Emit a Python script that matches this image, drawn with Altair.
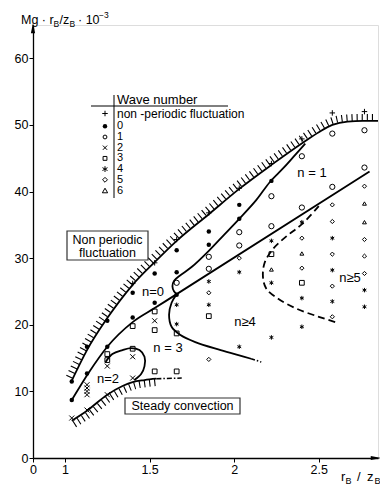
import altair as alt
import pandas as pd

FONT = "Liberation Sans"
OX, OY = 33, 25          # plot origin inside the 380x485 page
W, H = 345, 433

# ---------------- measured points (x = r_B/z_B, y = Mg*r_B/z_B*1e-3) ----------------
plus_x = [1.40, 1.53, 1.66, 1.85, 2.03, 2.22, 2.40, 2.58, 2.77]
plus_y = [26.2, 29.3, 32.8, 36.8, 40.5, 44.2, 47.9, 51.8, 52.0]

n0_x = [1.04, 1.04, 1.13, 1.13, 1.25, 1.25, 1.40, 1.40, 1.53, 1.53, 1.66, 1.66, 1.66, 1.85, 1.85, 2.03, 2.03, 2.22]
n0_y = [11.5, 8.7, 16.7, 12.7, 20.6, 16.7, 24.8, 21.1, 27.7, 23.3, 31.2, 27.9, 24.5, 34.0, 32.0, 38.0, 35.9, 41.6]

n1_x = [1.66, 1.85, 1.85, 2.03, 2.03, 2.22, 2.22, 2.40, 2.40, 2.58, 2.58, 2.77, 2.77]
n1_y = [26.3, 30.2, 28.4, 33.9, 31.9, 39.3, 34.8, 45.3, 37.6, 48.7, 40.7, 49.2, 43.6]

n2_x = [1.04, 1.13, 1.13, 1.13, 1.13, 1.13, 1.25, 1.25, 1.40, 1.40, 1.53]
n2_y = [6.0, 11.0, 10.5, 10.0, 9.5, 7.2, 13.8, 9.5, 15.2, 12.0, 20.6]

n3_x = [1.25, 1.25, 1.40, 1.40, 1.53, 1.53, 1.53, 1.66, 1.66, 1.85, 2.22, 2.40]
n3_y = [15.6, 14.7, 19.8, 16.4, 22.0, 19.2, 13.0, 18.7, 13.0, 21.3, 30.6, 26.3]

n4_x = [1.66, 1.66, 1.85, 1.85, 2.03, 2.03, 2.22, 2.22, 2.22, 2.40, 2.40, 2.40, 2.58, 2.58, 2.58, 2.77, 2.77]
n4_y = [23.0, 20.1, 26.5, 23.0, 27.9, 16.7, 32.6, 26.3, 18.1, 35.4, 24.0, 19.7, 33.0, 28.2, 23.5, 25.2, 22.7]

n5_x = [1.85, 1.85, 2.03, 2.40, 2.40, 2.58, 2.58, 2.58, 2.58, 2.58, 2.77, 2.77, 2.77, 2.77]
n5_y = [24.8, 14.8, 30.0, 33.0, 28.5, 38.0, 35.5, 30.6, 25.8, 21.2, 40.8, 32.8, 30.3, 27.7]

n6_x = [2.22, 2.40, 2.77, 2.77]
n6_y = [28.3, 30.7, 38.2, 35.4]

# ---------------- boundary curves ----------------
fl_x = [1.04, 1.13, 1.25, 1.40, 1.53, 1.66, 1.85, 2.03, 2.22, 2.41, 2.50, 2.58, 2.67, 2.76, 2.85]
fl_y = [11.6, 16.2, 21.0, 26.0, 29.4, 32.6, 36.6, 40.4, 44.0, 47.4, 48.9, 50.0, 50.5, 50.6, 50.6]

st_x = [1.04, 1.13, 1.25, 1.34, 1.40, 1.47, 1.54]
st_y = [5.6, 7.1, 9.5, 10.8, 11.4, 11.7, 11.9]
st2_x = [1.54, 1.69]
st2_y = [11.9, 12.0]

l1_x = [1.04, 1.14, 1.25, 1.40, 1.53, 1.66, 2.80]
l1_y = [8.7, 12.8, 16.7, 20.4, 22.5, 24.6, 43.0]

c0_x = [1.66, 1.645, 1.635, 1.645, 1.68, 1.75, 1.85, 1.94, 2.03, 2.13, 2.21, 2.29, 2.35, 2.42]
c0_y = [24.6, 25.0, 25.8, 26.6, 27.4, 28.7, 31.1, 33.5, 35.9, 38.7, 41.4, 43.5, 45.2, 47.2]

c3_x = [1.66, 1.63, 1.615, 1.63, 1.68, 1.77, 1.92, 2.03, 2.10]
c3_y = [24.6, 23.3, 21.5, 19.7, 18.5, 17.4, 16.2, 15.4, 14.9]
c3b_x = [2.10, 2.16]
c3b_y = [14.9, 14.4]

c2_x = [1.24, 1.28, 1.34, 1.39, 1.44, 1.47, 1.47, 1.45, 1.41]
c2_y = [14.4, 15.6, 16.2, 16.5, 16.2, 15.2, 13.8, 12.6, 11.7]

c5_x = [2.50, 2.40, 2.31, 2.23, 2.18, 2.17, 2.19, 2.26, 2.37, 2.50, 2.61]
c5_y = [37.8, 35.1, 33.3, 31.4, 29.3, 27.2, 25.4, 23.9, 22.4, 21.2, 20.3]

# ---------------- legend ----------------
legend_kinds = ["plus", "dot", "circle", "x", "square", "asterisk", "diamond", "triangle"]
legend_labels = ["non -periodic fluctuation", "0", "1", "2", "3", "4", "5", "6"]

x_ticks = [0, 1, 1.5, 2, 2.5]
y_ticks = [0, 10, 20, 30, 40, 50, 60]

SHAPE = {
    "plus": "M-1,0L1,0M0,-1L0,1",
    "circle": "circle",
    "x": "M-1,-1L1,1M-1,1L1,-1",
    "square": "square",
    "asterisk": "M0,-1L0,1M-0.87,-0.5L0.87,0.5M-0.87,0.5L0.87,-0.5",
    "diamond": "diamond",
    "triangle": "triangle-up",
}
SIZE = {"plus": 30, "circle": 15, "x": 18, "square": 15, "asterisk": 34, "diamond": 24, "triangle": 28}

xs = alt.Scale(domain=[0, 1, 2.85], range=[0, 32, W])
ys = alt.Scale(domain=[0, 65])
xaxis = alt.Axis(values=x_ticks, labelExpr="'' + datum.value", title=None, grid=False,
                 domainColor="black", domainWidth=1.3, tickColor="black", tickSize=4,
                 labelFont=FONT, labelFontSize=12.5, labelPadding=1, labelColor="black",
                 labelFlush=False)
yaxis = alt.Axis(values=y_ticks, title=None, grid=False, domainColor="black", domainWidth=1.3,
                 tickColor="black", tickSize=4, labelFont=FONT, labelFontSize=12.5,
                 labelPadding=1, labelColor="black", labelFlush=False)


def X():
    return alt.X("x:Q", scale=xs, axis=xaxis)


def Y():
    return alt.Y("y:Q", scale=ys, axis=yaxis)


def curve_df(xv, yv):
    return pd.DataFrame({"x": xv, "y": yv, "i": list(range(len(xv)))})


def curve(xv, yv, interp="monotone", **kw):
    return alt.Chart(curve_df(xv, yv)).mark_line(color="black", interpolate=interp, **kw).encode(
        x=X(), y=Y(), order="i:Q")


pts = []
for kind, xv, yv in [("plus", plus_x, plus_y), ("circle", n1_x, n1_y), ("x", n2_x, n2_y),
                     ("square", n3_x, n3_y), ("asterisk", n4_x, n4_y),
                     ("diamond", n5_x, n5_y), ("triangle", n6_x, n6_y)]:
    for a, b in zip(xv, yv):
        pts.append({"x": a, "y": b, "kind": kind})
pts = pd.DataFrame(pts)
kinds = list(SHAPE.keys())

points = alt.Chart(pts).mark_point(filled=False, color="black", strokeWidth=1, opacity=1).encode(
    x=X(), y=Y(),
    shape=alt.Shape("kind:N", scale=alt.Scale(domain=kinds, range=[SHAPE[k] for k in kinds]), legend=None),
    size=alt.Size("kind:N", scale=alt.Scale(domain=kinds, range=[SIZE[k] for k in kinds]), legend=None),
)
dots = alt.Chart(pd.DataFrame({"x": n0_x, "y": n0_y})).mark_circle(color="black", size=20, opacity=1).encode(
    x=X(), y=Y())

one = pd.DataFrame({"a": [0]})


def txt(text, px, py, size=12.5, align="left", baseline="middle"):
    return alt.Chart(one).mark_text(text=text, font=FONT, fontSize=size, align=align,
                                    baseline=baseline, color="black").encode(
        x=alt.value(px - OX), y=alt.value(py - OY))


def rule(px1, py1, px2, py2, w=1.0):
    return alt.Chart(one).mark_rule(color="black", strokeWidth=w).encode(
        x=alt.value(px1 - OX), x2=alt.value(px2 - OX), y=alt.value(py1 - OY), y2=alt.value(py2 - OY))


def box(px1, py1, px2, py2):
    return alt.Chart(one).mark_rect(fill="white", stroke="#333", strokeWidth=1.2).encode(
        x=alt.value(px1 - OX), x2=alt.value(px2 - OX), y=alt.value(py1 - OY), y2=alt.value(py2 - OY))


def sym(kind, px, py):
    if kind == "dot":
        return alt.Chart(one).mark_circle(color="black", size=20, opacity=1).encode(
            x=alt.value(px - OX), y=alt.value(py - OY))
    return alt.Chart(one).mark_point(shape=SHAPE[kind], size=SIZE[kind], filled=False, color="black",
                                     strokeWidth=1, opacity=1).encode(
        x=alt.value(px - OX), y=alt.value(py - OY))


layers = [
    # hatching
    curve(fl_x, fl_y, strokeWidth=7, strokeDash=[1.1, 4], xOffset=-2.5, yOffset=-3.5),
    curve(st_x, st_y, strokeWidth=7, strokeDash=[1.1, 4], xOffset=2.5, yOffset=3.5),
    # boundaries
    curve(fl_x, fl_y, strokeWidth=1.8),
    curve(st_x, st_y, strokeWidth=1.8),
    curve(st2_x, st2_y, strokeWidth=1.6, strokeDash=[5, 2, 1.5, 2]),
    curve(l1_x, l1_y, strokeWidth=1.8),
    curve(c0_x, c0_y, interp="catmull-rom", strokeWidth=1.8),
    curve(c3_x, c3_y, interp="catmull-rom", strokeWidth=1.8),
    curve(c3b_x, c3b_y, strokeWidth=1.6, strokeDash=[4, 2, 1.5, 2]),
    curve(c2_x, c2_y, interp="catmull-rom", strokeWidth=1.8),
    curve(c5_x, c5_y, interp="catmull-rom", strokeWidth=1.8, strokeDash=[7, 4]),
    points,
    dots,
    # boxed region labels
    box(67, 231, 148, 260),
    txt("Non periodic", 107.5, 240, align="center"),
    txt("fluctuation", 107.5, 253, align="center"),
    box(125, 398, 240, 414),
    txt("Steady convection", 182.5, 406, align="center"),
    # region labels
    txt("n = 1", 312, 173, 13, "center"),
    txt("n=0", 153, 292, 13, "center"),
    txt("n = 3", 168, 348, 13, "center"),
    txt("n=2", 108, 379, 13, "center"),
    txt("n\u22654", 245, 322, 13, "center"),
    txt("n\u22655", 350, 278, 13, "center"),
    # legend
    rule(91, 106, 228, 106),
    rule(114, 95, 114, 198),
    txt("Wave number", 117, 100, 13),
    # axis arrows
    alt.Chart(one).mark_point(shape="M0,-1L0.4,1L-0.4,1Z", size=110, filled=True, color="black", opacity=1).encode(
        x=alt.value(0), y=alt.value(3)),
    alt.Chart(one).mark_point(shape="M1,0L-1,0.4L-1,-0.4Z", size=110, filled=True, color="black", opacity=1).encode(
        x=alt.value(W - 2), y=alt.value(H)),
    # axis titles
    txt("Mg \u00b7 r", 21, 24, 12.5, baseline="alphabetic"),
    txt("B", 53.5, 27, 8.5, baseline="alphabetic"),
    txt("/z", 59.5, 24, 12.5, baseline="alphabetic"),
    txt("B", 69.5, 27, 8.5, baseline="alphabetic"),
    txt("\u00b7 10", 78, 24, 12.5, baseline="alphabetic"),
    txt("\u22123", 99, 18, 8.5, baseline="alphabetic"),
    txt("r", 341, 481, 13, baseline="alphabetic"),
    txt("B", 345.5, 484, 9, baseline="alphabetic"),
    txt("/", 357, 481, 13, baseline="alphabetic"),
    txt("z", 367, 481, 13, baseline="alphabetic"),
    txt("B", 374.5, 484, 9, baseline="alphabetic"),
]

for k, (kind, lab) in enumerate(zip(legend_kinds, legend_labels)):
    py = 113.5 if k == 0 else 126.3 + 10.7 * (k - 1)
    layers.append(sym(kind, 105, py))
    layers.append(txt(lab, 117, py, 12 if k == 0 else 11))

chart = alt.layer(*layers).properties(
    width=W, height=H,
    padding={"left": OX, "top": OY, "right": 380 - OX - W, "bottom": 485 - OY - H},
    autosize=alt.AutoSizeParams(type="none"),
).configure_view(stroke=None).configure(background="white")

chart.save("out.html", embed_options={"renderer": "svg", "actions": False})
